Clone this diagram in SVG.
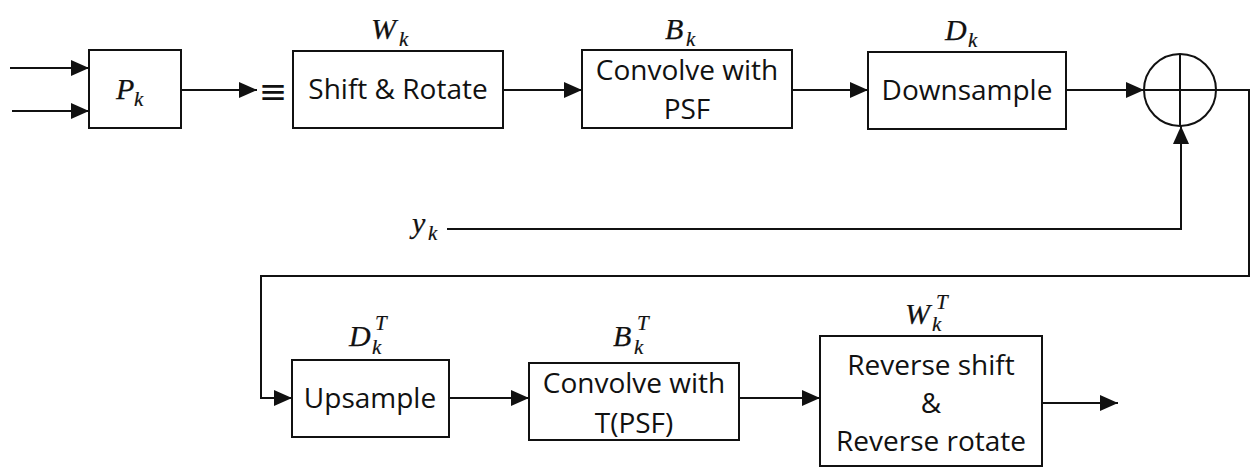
<svg xmlns="http://www.w3.org/2000/svg" width="1250" height="467" viewBox="0 0 1250 467">
  <style>
    .box { fill: #ffffff; stroke: #111111; stroke-width: 2; }
    .wire { fill: none; stroke: #111111; stroke-width: 2; }
    .lbl { font-family: "Open Sans", "Liberation Sans", sans-serif; font-size: 28px; fill: #111111; text-anchor: middle; }
    .m { font-family: "Liberation Serif", "DejaVu Serif", serif; font-style: italic; font-size: 30px; fill: #111111; stroke: #111111; stroke-width: 0.25; }
    .sub { font-family: "Liberation Serif", "DejaVu Serif", serif; font-style: italic; font-size: 21px; fill: #111111; stroke: #111111; stroke-width: 0.2; }
  </style>
  <defs>
    <marker id="arrow" markerUnits="userSpaceOnUse" markerWidth="18" markerHeight="16" refX="18" refY="8" orient="auto">
      <path d="M0,0 L18,8 L0,16 z" fill="#111111"/>
    </marker>
  </defs>
  <rect width="1250" height="467" fill="#ffffff"/>

  <!-- connectors -->
  <g id="connectors">
    <path class="wire" d="M10,68 H89" marker-end="url(#arrow)"/>
    <path class="wire" d="M12,111 H89" marker-end="url(#arrow)"/>
    <path class="wire" d="M181,90 H257" marker-end="url(#arrow)"/>
    <path class="wire" d="M503,90 H582" marker-end="url(#arrow)"/>
    <path class="wire" d="M792,90 H868" marker-end="url(#arrow)"/>
    <path class="wire" d="M1066,90 H1144" marker-end="url(#arrow)"/>
    <path class="wire" d="M447,229 H1181 V126" marker-end="url(#arrow)"/>
    <path class="wire" d="M1216,90 H1249 V276 H261 V398 H292" marker-end="url(#arrow)"/>
    <path class="wire" d="M449,398 H529" marker-end="url(#arrow)"/>
    <path class="wire" d="M739,398 H820" marker-end="url(#arrow)"/>
    <path class="wire" d="M1042,403 H1118" marker-end="url(#arrow)"/>
    <text class="lbl" x="273" y="103" style="font-family: 'DejaVu Sans', sans-serif; font-size: 34px;">≡</text>
  </g>

  <!-- P_k -->
  <g id="node-p">
    <rect class="box" x="89" y="50" width="92" height="78"/>
    <text class="m" x="116" y="99">P</text>
    <text class="sub" x="134" y="106">k</text>
  </g>

  <!-- W_k : shift and rotate -->
  <g id="node-w">
    <rect class="box" x="293" y="51" width="210" height="77"/>
    <text class="lbl" x="398" y="99">Shift &amp; Rotate</text>
    <text class="m" x="371" y="39">W</text>
    <text class="sub" x="399" y="46">k</text>
  </g>

  <!-- B_k : blur -->
  <g id="node-b">
    <rect class="box" x="582" y="50" width="210" height="78"/>
    <text class="lbl" x="687" y="80">Convolve with</text>
    <text class="lbl" x="687" y="119">PSF</text>
    <text class="m" x="665" y="39">B</text>
    <text class="sub" x="686" y="46">k</text>
  </g>

  <!-- D_k : decimation -->
  <g id="node-d">
    <rect class="box" x="868" y="52" width="198" height="77"/>
    <text class="lbl" x="967" y="100">Downsample</text>
    <text class="m" x="945" y="40">D</text>
    <text class="sub" x="968" y="47">k</text>
  </g>

  <!-- summing junction -->
  <g id="node-sum">
    <circle class="box" cx="1180" cy="90" r="36"/>
    <path class="wire" d="M1144,90 H1216 M1180,54 V126"/>
  </g>

  <!-- observation input -->
  <g id="node-y">
    <text class="m" x="412" y="233">y</text>
    <text class="sub" x="428" y="240">k</text>
  </g>

  <!-- D_k^T : upsampling -->
  <g id="node-dt">
    <rect class="box" x="292" y="360" width="157" height="77"/>
    <text class="lbl" x="370" y="408">Upsample</text>
    <text class="m" x="349" y="346">D</text>
    <text class="sub" x="372" y="354">k</text>
    <text class="sub" x="375" y="330">T</text>
  </g>

  <!-- B_k^T : transposed blur -->
  <g id="node-bt">
    <rect class="box" x="529" y="363" width="210" height="77"/>
    <text class="lbl" x="634" y="393">Convolve with</text>
    <text class="lbl" x="634" y="433">T(PSF)</text>
    <text class="m" x="613" y="346">B</text>
    <text class="sub" x="634" y="354">k</text>
    <text class="sub" x="637" y="330">T</text>
  </g>

  <!-- W_k^T : inverse warp -->
  <g id="node-wt">
    <rect class="box" x="820" y="336" width="222" height="130"/>
    <text class="lbl" x="931" y="375">Reverse shift</text>
    <text class="lbl" x="931" y="413">&amp;</text>
    <text class="lbl" x="931" y="451">Reverse rotate</text>
    <text class="m" x="905" y="324">W</text>
    <text class="sub" x="932" y="331">k</text>
    <text class="sub" x="936" y="309">T</text>
  </g>
</svg>
